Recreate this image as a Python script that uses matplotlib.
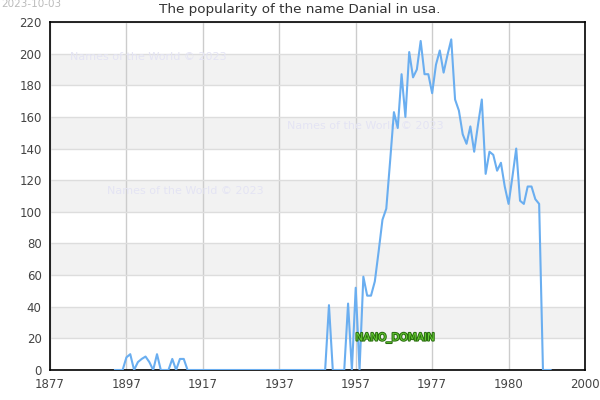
import matplotlib.pyplot as plt
import matplotlib.patheffects as pe
import numpy as np

# tick labels as printed on the chart (evenly spaced, every 20 steps)
tick_labels = ["1877", "1897", "1917", "1937", "1957", "1977", "1980", "2000"]
start_index = 17  # first point of the series (1894)

# popularity values, one per year from index 17 onwards
values = [0, 0, 0, 8, 10, 0, 5, 7, 8.5, 5, 0, 10, 0, 0, 0, 7, 0, 7, 7, 0] + \
         [0] * 36 + \
         [41, 0, 0, 0, 0, 42, 0, 52, 0, 59, 47, 47, 56, 75, 95, 102, 132,
          163, 153, 187, 160, 201, 185, 190, 208, 187, 187, 175, 193, 202,
          188, 199, 209, 171, 164, 149, 143, 154, 138, 155, 171, 124, 138,
          136, 126, 131, 116, 105, 122, 140, 107, 105, 116, 116, 108, 105,
          0, 0, 0]

x = np.arange(start_index, start_index + len(values))

fig = plt.figure(figsize=(6, 4), dpi=100)
ax = fig.add_axes([50 / 600, 30 / 400, 535 / 600, 348 / 400])

# alternating background bands
for lo in range(20, 220, 40):
    ax.axhspan(lo, lo + 20, color="#f2f2f2", zorder=0, lw=0)
ax.set_xlim(0, 140)
ax.set_ylim(0, 220)
ax.set_yticks(range(0, 221, 20))
ax.set_xticks(range(0, 141, 20))
ax.set_xticklabels(tick_labels)
ax.grid(axis="y", color="#dddddd", lw=1, zorder=1)
ax.grid(axis="x", color="#cccccc", lw=1, zorder=1)
ax.tick_params(length=0, labelsize=8.5, colors="#444444", pad=6)
for s in ax.spines.values():
    s.set_color("black")
    s.set_linewidth(1.2)

# watermarks
wm = dict(color="#e4e4f4", fontsize=8, ha="center", va="center", zorder=2,
          transform=fig.transFigure)
ax.text(148 / 600, 1 - 57 / 400, "Names of the World © 2023", **wm)
ax.text(365 / 600, 1 - 126 / 400, "Names of the World © 2023", **wm)
ax.text(185 / 600, 1 - 191 / 400, "Names of the World © 2023", **wm)

ax.plot(x, values, color="#6aaef0", lw=1.5, zorder=3)

ax.text(395 / 600, 1 - 338 / 400, "NANO_DOMAIN", transform=fig.transFigure,
        ha="center", va="center", fontsize=7.5, color="#66cc33", zorder=4,
        path_effects=[pe.withStroke(linewidth=1.5, foreground="#2a6e10")])

fig.text(0.5, 1 - 10 / 400, "The popularity of the name Danial in usa.",
         ha="center", va="center", fontsize=9.7, color="#333333")
fig.text(1 / 600, 1 - 4 / 400, "2023-10-03", ha="left", va="center",
         fontsize=7.5, color="#bbbbbb")

fig.savefig("out.png", dpi=100)
